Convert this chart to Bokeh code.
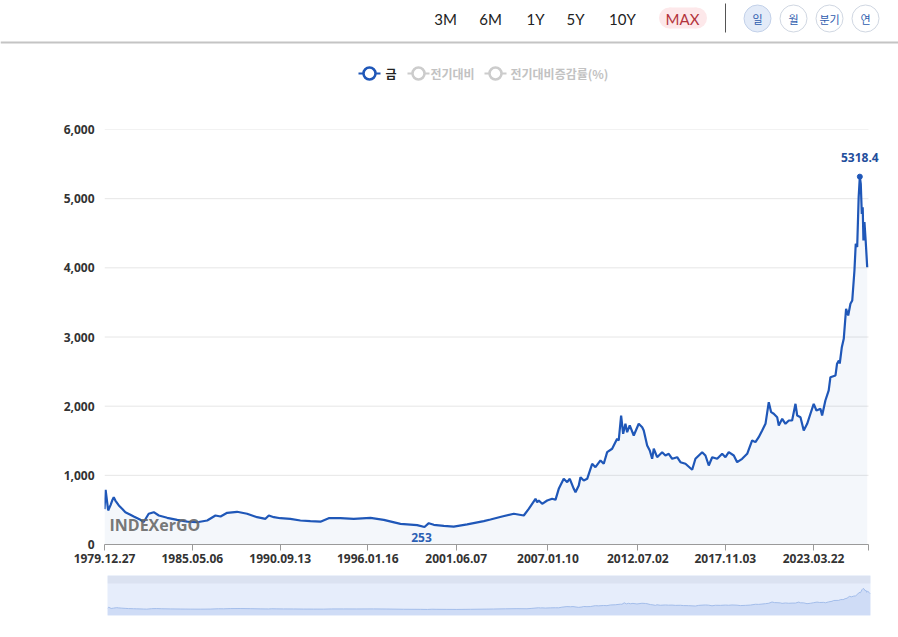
import pandas as pd
from bokeh.plotting import figure
from bokeh.models import (Range1d, FixedTicker, NumeralTickFormatter, Label,
                          ColumnDataSource, BoxAnnotation)
from bokeh.embed import file_html
from bokeh.resources import INLINE
from bokeh.core.properties import value

# ---------------- data ----------------
dates = [
    "1979-12-27", "1980-01-21", "1980-03-18", "1980-05-10", "1980-06-15", "1980-07-20",
    "1980-08-25", "1980-11-10", "1981-01-22", "1981-04-05", "1981-07-26", "1981-10-08",
    "1982-03-06", "1982-05-19", "1982-09-06", "1982-12-28", "1983-04-20", "1983-10-23",
    "1984-06-02", "1985-01-12", "1985-08-21", "1986-04-01", "1986-10-02", "1987-01-24",
    "1987-06-20", "1988-01-26", "1988-09-06", "1989-04-16", "1989-10-19", "1990-01-02",
    "1990-04-24", "1990-09-16", "1991-04-27", "1991-12-06", "1992-07-16", "1993-02-25",
    "1993-08-28", "1994-05-15", "1995-03-08", "1996-03-15", "1997-01-05", "1998-01-12",
    "1999-01-19", "1999-07-01", "1999-10-05", "2000-01-24", "2000-09-03", "2001-04-12",
    "2002-02-06", "2003-02-10", "2003-07-09", "2004-03-25", "2004-12-10", "2005-07-20",
    "2005-11-08", "2006-04-07", "2006-05-14", "2006-06-19", "2006-09-03", "2006-12-23",
    "2007-04-13", "2007-06-26", "2007-09-07", "2007-12-27", "2008-03-13", "2008-05-10",
    "2008-08-07", "2008-09-14", "2008-11-26", "2009-01-03", "2009-03-17", "2009-06-01",
    "2009-09-20", "2009-12-02", "2010-03-24", "2010-06-05", "2010-08-20", "2010-12-09",
    "2011-03-30", "2011-05-05", "2011-06-27", "2011-08-11", "2011-10-01", "2011-11-08",
    "2012-01-05", "2012-04-03", "2012-07-23", "2012-10-08", "2012-11-12", "2013-01-27",
    "2013-03-26", "2013-05-18", "2013-06-23", "2013-09-06", "2013-12-27", "2014-03-10",
    "2014-05-23", "2014-08-07", "2014-11-26", "2015-02-07", "2015-05-30", "2015-10-26",
    "2016-01-07", "2016-06-05", "2016-08-17", "2016-10-30", "2017-01-14", "2017-05-05",
    "2017-08-24", "2017-11-05", "2018-01-18", "2018-05-10", "2018-07-24", "2018-11-12",
    "2019-03-04", "2019-06-23", "2019-09-04", "2019-11-16", "2020-02-01", "2020-04-15",
    "2020-06-27", "2020-08-19", "2020-10-16", "2020-12-31", "2021-02-05", "2021-04-22",
    "2021-07-04", "2021-09-16", "2021-11-29", "2022-02-12", "2022-03-22", "2022-06-03",
    "2022-08-15", "2022-10-30", "2023-01-11", "2023-03-25", "2023-05-25", "2023-08-22",
    "2023-09-28", "2023-12-10", "2024-02-22", "2024-03-31", "2024-07-22", "2024-08-25",
    "2024-10-05", "2024-10-25", "2024-12-10", "2025-01-22", "2025-03-15", "2025-05-01",
    "2025-06-20", "2025-07-30", "2025-09-17", "2025-10-16", "2025-11-17", "2025-12-20",
    "2026-01-15", "2026-02-05", "2026-02-28", "2026-03-20", "2026-04-05", "2026-04-28",
    "2026-05-25", "2026-06-28",
]
prices = [
    512, 790, 492, 570, 636, 684,
    636, 564, 516, 467, 430, 405,
    357, 325, 444, 467, 419, 386,
    357, 330, 322, 347, 419, 405,
    458, 473, 444, 395, 371, 419,
    395, 380, 371, 347, 337, 330,
    380, 380, 371, 386, 357, 299,
    280, 253, 308, 285, 268, 258,
    290, 337, 361, 405, 444, 419,
    516, 661, 612, 636, 588, 636,
    661, 646, 805, 950, 901, 950,
    805, 756, 853, 973, 925, 950,
    1167, 1118, 1215, 1167, 1335, 1384,
    1528, 1504, 1865, 1601, 1745, 1624,
    1721, 1576, 1745, 1696, 1648, 1432,
    1359, 1239, 1384, 1262, 1335, 1287,
    1311, 1239, 1262, 1190, 1167, 1080,
    1239, 1335, 1287, 1142, 1262, 1239,
    1311, 1262, 1335, 1287, 1190, 1239,
    1311, 1504, 1480, 1552, 1648, 1745,
    2058, 1913, 1890, 1841, 1721, 1817,
    1745, 1793, 1793, 2034, 1865, 1841,
    1648, 1745, 1890, 2034, 1937, 1962,
    1865, 2082, 2227, 2419, 2444, 2613,
    2661, 2617, 2853, 2974, 3408, 3311,
    3480, 3528, 3962, 4348, 4300, 5022,
    5318.4, 5215, 4780, 4877, 4395, 4660,
    4395, 4009,
]
tick_dates = ["1979-12-27", "1985-05-06", "1990-09-13", "1996-01-16", "2001-06-07",
              "2007-01-10", "2012-07-02", "2017-11-03", "2023-03-22"]
tick_labels = ["1979.12.27", "1985.05.06", "1990.09.13", "1996.01.16", "2001.06.07",
               "2007.01.10", "2012.07.02", "2017.11.03", "2023.03.22"]
y_ticks = [0, 1000, 2000, 3000, 4000, 5000, 6000]
X_START = "1979-12-27"
X_END = "2026-07-27"
range_buttons = ["3M", "6M", "1Y", "5Y", "10Y", "MAX"]
freq_buttons = ["일", "월", "분기", "연"]
legend_items = ["금", "전기대비", "전기대비증감률(%)"]
watermark = "INDEXerGO"

LINE = "#1f57b8"
FONT = "Open Sans"
KFONT = "Noto Sans CJK KR"
W = 898


def ms(s):
    return int(pd.Timestamp(s).value // 10**6)


xs = [ms(d) for d in dates]
x0, x1 = ms(X_START), ms(X_END)

# ---------------- top bar (buttons + legend) ----------------
t = figure(width=W, height=108, x_range=Range1d(0, W), y_range=Range1d(108, 0),
           min_border=0, toolbar_location=None, output_backend="svg",
           x_axis_location=None, y_axis_location=None)
t.grid.visible = False
t.outline_line_color = None

bx = [445, 490, 535, 575, 622, 682]
t.rect(x=[682.5], y=[17.5], width=27, height=21, fill_color="#fde8ea", line_color=None)
t.scatter(x=[669, 696], y=[17.5, 17.5], size=21, fill_color="#fde8ea", line_color=None)
t.text(x=bx, y=[18] * 6, text=range_buttons, text_font=value("Lato"),
       text_font_size="15px", text_align="center", text_baseline="middle",
       text_color=["#222222"] * 5 + ["#b3343c"])
t.segment(x0=[725], y0=[3], x1=[725], y1=[32], line_color="#555555", line_width=1)
cx = [757, 793, 829, 865]
t.scatter(x=cx, y=[18] * 4, size=27,
          fill_color=["#e3ebf8", "#ffffff", "#ffffff", "#ffffff"],
          line_color=["#c2d0e8", "#d0d7e2", "#d0d7e2", "#d0d7e2"], line_width=1)
t.text(x=cx, y=[18] * 4, text=freq_buttons, text_font=value(KFONT),
       text_font_size="11px", text_align="center", text_baseline="middle",
       text_color="#2e5cae")
t.segment(x0=[0], y0=[42], x1=[W], y1=[42], line_color="#c4c4c4", line_width=2)

mk = [369, 418, 495]
lcol = [LINE, "#cccccc", "#cccccc"]
t.segment(x0=[m - 11 for m in mk], y0=[73] * 3, x1=[m + 11 for m in mk], y1=[73] * 3,
          line_color=lcol, line_width=2)
t.scatter(x=mk, y=[73] * 3, size=12, fill_color="#ffffff", line_color=lcol, line_width=2.5)
t.text(x=[385, 430, 510], y=[73] * 3, text=legend_items, text_font=value(KFONT),
       text_font_size="12px", text_font_style="bold", text_align="left",
       text_baseline="middle", text_color=["#222222", "#c2c2c2", "#c2c2c2"])

# ---------------- main chart ----------------
FRAME_L, FRAME_R = 104, 868          # pixel extent of the date axis
x_right = x1 + (x1 - x0) * (W - FRAME_R) / (FRAME_R - FRAME_L)

src = ColumnDataSource(dict(x=xs, y=prices, y0=[0] * len(xs)))
p = figure(width=W, height=460, output_backend="svg", toolbar_location=None,
           x_range=Range1d(x0, x_right), y_range=Range1d(0, 6000),
           min_border_left=FRAME_L, min_border_right=0, min_border_top=21,
           min_border_bottom=24)
p.outline_line_color = None
p.xgrid.visible = False
p.ygrid.visible = False
p.segment(x0=[x0] * len(y_ticks), x1=[x1] * len(y_ticks), y0=y_ticks, y1=y_ticks,
          line_color="#e6e6e6", line_width=1)
p.varea(x="x", y1="y0", y2="y", source=src, fill_color="#2a5db0", fill_alpha=0.05)
p.line(x="x", y="y", source=src, line_color=LINE, line_width=2.2)

xt = [ms(d) for d in tick_dates] + [x1]
p.xaxis.ticker = FixedTicker(ticks=xt)
p.xaxis.major_label_overrides = {k: v for k, v in zip(xt, tick_labels + [""])}
p.xaxis.bounds = (x0, x1)
p.xaxis.axis_line_color = "#9a9a9a"
p.xaxis.major_tick_line_color = "#9a9a9a"
p.xaxis.major_tick_out = 6
p.xaxis.major_tick_in = 0
p.xaxis.minor_tick_line_color = None
p.xaxis.major_label_standoff = 3

p.yaxis.ticker = FixedTicker(ticks=y_ticks)
p.yaxis.formatter = NumeralTickFormatter(format="0,0")
p.yaxis.axis_line_color = None
p.yaxis.major_tick_line_color = None
p.yaxis.minor_tick_line_color = None
p.yaxis.major_tick_out = 0
p.yaxis.major_tick_in = 0
p.yaxis.major_label_standoff = 10

for ax in (p.xaxis, p.yaxis):
    ax.major_label_text_font = FONT
    ax.major_label_text_font_style = "bold"
    ax.major_label_text_font_size = "12px"
    ax.major_label_text_color = "#333333"

imax = max(range(len(prices)), key=lambda i: prices[i])
imin = min(range(len(prices)), key=lambda i: prices[i])
p.scatter(x=[xs[imax]], y=[prices[imax]], size=5, color=LINE)
p.add_layout(Label(x=xs[imax], y=prices[imax], y_offset=19, text=f"{prices[imax]:g}",
                   text_font=FONT, text_font_style="bold", text_font_size="12px",
                   text_color="#1f4e9c", text_align="center", text_baseline="middle"))
p.add_layout(Label(x=xs[imin], y=prices[imin], y_offset=-10, x_offset=-3,
                   text=f"{prices[imin]:g}",
                   text_font=FONT, text_font_style="bold", text_font_size="12px",
                   text_color="#2b5fb4", text_align="center", text_baseline="middle"))
p.add_layout(Label(x=x0, y=0, x_offset=5, y_offset=20, text=watermark,
                   text_font=FONT, text_font_style="bold", text_font_size="16px",
                   text_color="#666666", text_alpha=0.9, text_align="left",
                   text_baseline="middle"))

# ---------------- navigator ----------------
NB = -1209
nsrc = ColumnDataSource(dict(x=xs, y=prices, y0=[NB] * len(xs)))
n = figure(width=W, height=69, output_backend="svg", toolbar_location=None,
           x_range=Range1d(xs[0], xs[-1]), y_range=Range1d(NB, 8460),
           min_border_left=107, min_border_right=28, min_border_top=7, min_border_bottom=22,
           x_axis_location=None, y_axis_location=None)
n.grid.visible = False
n.outline_line_color = None
n.background_fill_color = "#e6edfb"
n.add_layout(BoxAnnotation(bottom=6526, fill_color="#dbe2f1", fill_alpha=1.0, line_color=None))
n.varea(x="x", y1="y0", y2="y", source=nsrc, fill_color="#cfdcf6", fill_alpha=1.0)
n.line(x="x", y="y", source=nsrc, line_color="#a3bdea", line_width=1)

open("out.html", "w").write(file_html([t, p, n], INLINE))
